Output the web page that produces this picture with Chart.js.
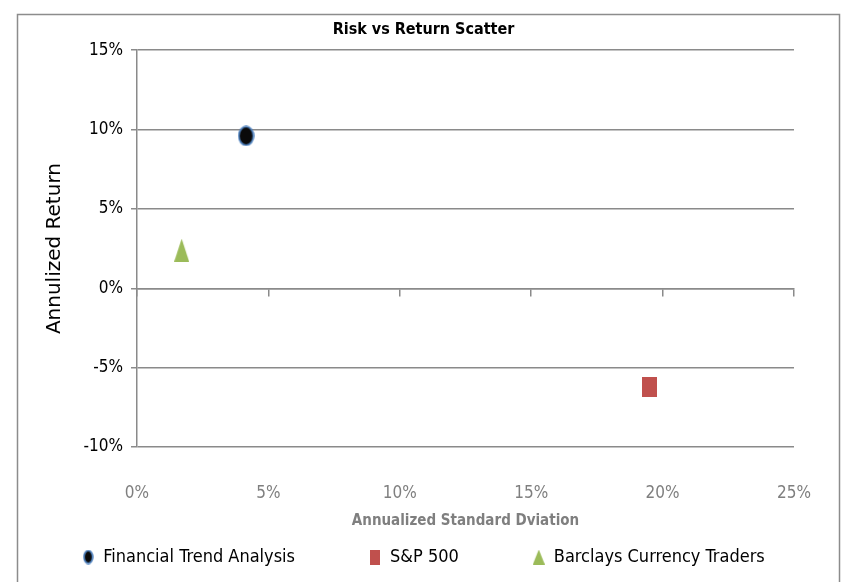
<!DOCTYPE html>
<html>
<head>
<meta charset="utf-8">
<script src="https://cdn.jsdelivr.net/npm/chart.js@4.4.0/dist/chart.umd.min.js"></script>
<style>
  html, body { margin: 0; padding: 0; background: #fff; }
  #wrap { width: 847px; height: 582px; }
</style>
</head>
<body>
<div id="wrap"><canvas id="riskChart"></canvas></div>
<script>
// data (fractions, shown as %)
const seriesNames = ['Financial Trend Analysis', 'S&P 500', 'Barclays Currency Traders'];
const stdDev = [0.0415, 0.195, 0.017];
const annReturn = [0.096, -0.062, 0.024];
const xTicks = [0, 0.05, 0.10, 0.15, 0.20, 0.25];
const yTicks = [-0.10, -0.05, 0, 0.05, 0.10, 0.15];

const narrow = "'Liberation Sans Narrow', 'DejaVu Sans Condensed', 'Open Sans', sans-serif";
const gridGray = '#8a8a8a';
const PAD_BOTTOM = 6;
const LEGEND_H = 34;
const LEGEND_SHIFT = 68;

// marker images (the reference markers are a bit taller than wide)
const makeMarker = (kind, w, h) => {
    const c = document.createElement('canvas');
    c.width = w; c.height = h;
    const g = c.getContext('2d');
    if (kind === 'ellipse') {
        g.beginPath();
        g.ellipse(w / 2, h / 2, w / 2 - 1.2, h / 2 - 1.2, 0, 0, Math.PI * 2);
        g.fillStyle = '#0a0a0a';
        g.fill();
        g.lineWidth = 1.8;
        g.strokeStyle = '#4f81bd';
        g.stroke();
    } else if (kind === 'rect') {
        g.fillStyle = '#c0504d';
        g.fillRect(0, 0, w, h);
    } else {
        g.beginPath();
        g.moveTo(w / 2, 0);
        g.lineTo(w, h);
        g.lineTo(0, h);
        g.closePath();
        g.fillStyle = '#9bbb59';
        g.fill();
    }
    return c;
};

const chartMarkers = [makeMarker('ellipse', 17, 21), makeMarker('rect', 15, 20), makeMarker('tri', 15, 23)];
const legendMarkers = [makeMarker('ellipse', 11, 15), makeMarker('rect', 10, 15), makeMarker('tri', 12, 15)];
const colors = ['#0a0a0a', '#c0504d', '#9bbb59'];

const pct = v => Math.round(v * 100) + '%';

const frame = {
    id: 'frame',
    beforeDraw(chart) {
        const c = chart.ctx;
        c.save();
        c.fillStyle = '#fff';
        c.fillRect(0, 0, chart.width, chart.height);
        c.strokeStyle = '#8c8c8c';
        c.lineWidth = 1.5;
        c.strokeRect(17.5, 14.5, 822, 700);
        c.restore();
    }
};

// the legend needs wide gaps between items but not the same vertical padding,
// so its height is capped and its items drawn higher up inside the box
const legendShift = {
    id: 'legendShift',
    afterInit(chart) {
        const lg = chart.legend;
        const drawItems = lg._draw.bind(lg);
        lg._draw = function () {
            this.ctx.save();
            this.ctx.translate(0, -LEGEND_SHIFT);
            drawItems();
            this.ctx.restore();
        };
    }
};

new Chart(document.getElementById('riskChart'), {
    type: 'scatter',
    data: {
        datasets: seriesNames.map((name, i) => ({
            label: name,
            data: [{ x: stdDev[i], y: annReturn[i] }],
            pointStyle: chartMarkers[i],
            backgroundColor: colors[i],
            borderColor: colors[i]
        }))
    },
    options: {
        responsive: true,
        maintainAspectRatio: false,
        animation: false,
        events: [],
        layout: { padding: { left: 0, right: 0, top: 0, bottom: PAD_BOTTOM } },
        scales: {
            x: {
                type: 'linear',
                position: 'bottom',
                min: 0, max: 0.25,
                afterBuildTicks: s => { s.ticks = xTicks.map(v => ({ value: v })); },
                grid: { display: false, drawTicks: false },
                border: { display: false },
                ticks: {
                    callback: pct,
                    color: '#7f7f7f',
                    font: { family: narrow, size: 17 },
                    padding: 36
                },
                title: {
                    display: true,
                    text: 'Annualized Standard Dviation',
                    color: '#7f7f7f',
                    font: { family: narrow, size: 15, weight: 'bold' },
                    padding: { top: 0, bottom: 12 }
                },
                afterFit: s => { s.height = 582 - 447 - s.chart.legend.height - PAD_BOTTOM; }
            },
            x2: {
                type: 'linear',
                axis: 'x',
                position: { y: 0 },
                min: 0, max: 0.25,
                afterBuildTicks: s => { s.ticks = xTicks.map(v => ({ value: v })); },
                grid: { drawOnChartArea: false, drawTicks: true, tickLength: 7, color: gridGray, lineWidth: 1.5 },
                border: { display: true, color: gridGray, width: 1.5 },
                ticks: { display: false }
            },
            y: {
                type: 'linear',
                min: -0.10, max: 0.15,
                afterBuildTicks: s => { s.ticks = yTicks.map(v => ({ value: v })); },
                grid: { color: gridGray, lineWidth: 1.5, tickLength: 6 },
                border: { display: true, color: gridGray, width: 1.5 },
                ticks: {
                    callback: pct,
                    color: '#000',
                    font: { family: narrow, size: 17 },
                    padding: 8
                },
                title: {
                    display: true,
                    text: 'Annulized Return',
                    color: '#000',
                    font: { family: "'DejaVu Sans', sans-serif", size: 20 },
                    padding: { top: 43, bottom: 0 }
                },
                afterFit: s => { s.width = 137; }
            },
            // empty right-hand axis, only reserves the margin right of the plot
            yRight: {
                type: 'linear',
                position: 'right',
                min: -0.10, max: 0.15,
                grid: { display: false },
                border: { display: false },
                ticks: { display: false },
                afterFit: s => { s.width = 52; }
            }
        },
        plugins: {
            title: {
                display: true,
                text: 'Risk vs Return Scatter',
                color: '#000',
                font: { family: narrow, size: 16, weight: 'bold' },
                padding: { top: 20, bottom: 11 }
            },
            legend: {
                position: 'bottom',
                maxHeight: LEGEND_H,
                labels: {
                    usePointStyle: true,
                    boxWidth: 12,
                    padding: 74,
                    color: '#000',
                    font: { family: narrow, size: 18 },
                    generateLabels: chart => {
                        const items = Chart.defaults.plugins.legend.labels.generateLabels(chart);
                        items.forEach((it, i) => { it.pointStyle = legendMarkers[i]; });
                        return items;
                    }
                }
            },
            tooltip: { enabled: false }
        }
    },
    plugins: [frame, legendShift]
});
</script>
</body>
</html>
